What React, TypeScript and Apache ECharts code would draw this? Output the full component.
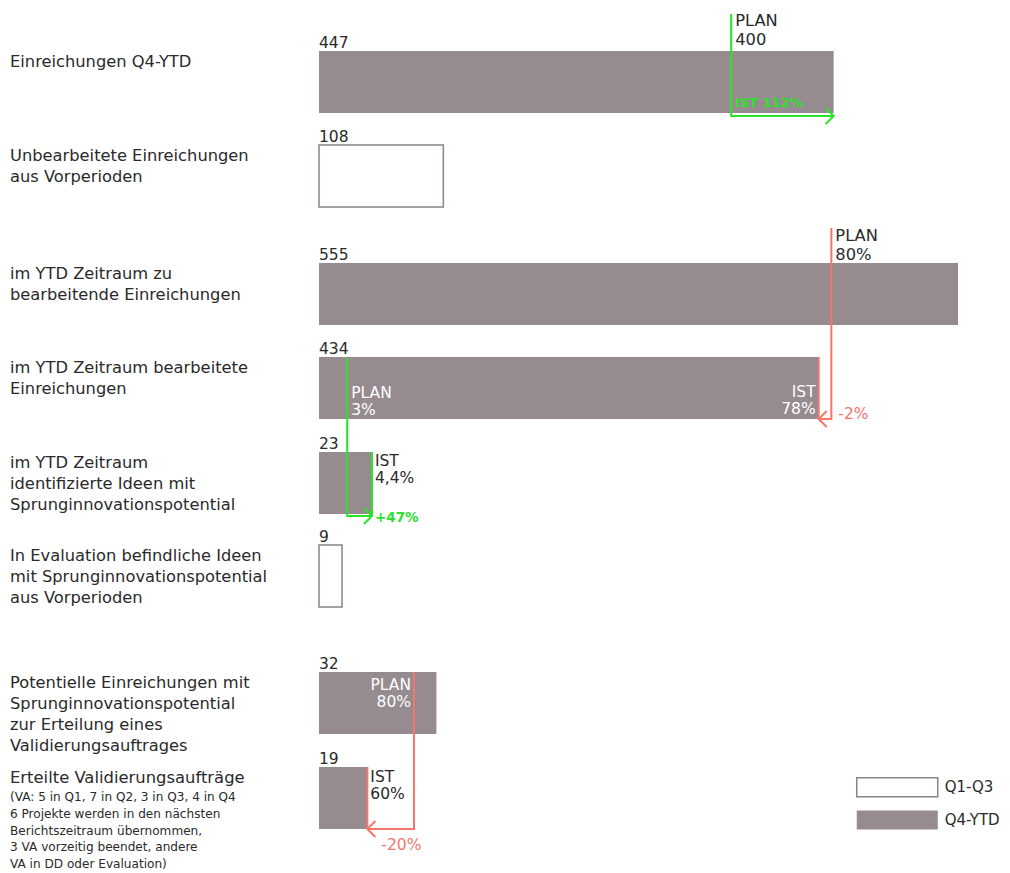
import React, { useEffect, useRef } from "react";
import * as echarts from "echarts";

// ---------- data ----------
const categories = [
  "Einreichungen Q4-YTD",
  "Unbearbeitete Einreichungen\naus Vorperioden",
  "im YTD Zeitraum zu\nbearbeitende Einreichungen",
  "im YTD Zeitraum bearbeitete\nEinreichungen",
  "im YTD Zeitraum\nidentifizierte Ideen mit\nSprunginnovationspotential",
  "In Evaluation befindliche Ideen\nmit Sprunginnovationspotential\naus Vorperioden",
  "Potentielle Einreichungen mit\nSprunginnovationspotential\nzur Erteilung eines\nValidierungsauftrages",
  "Erteilte Validierungsaufträge",
];
const categoryNote = [
  "(VA: 5 in Q1, 7 in Q2, 3 in Q3, 4 in Q4",
  "6 Projekte werden in den nächsten",
  "Berichtszeitraum übernommen,",
  "3 VA vorzeitig beendet, andere",
  "VA in DD oder Evaluation)",
];
const values = [447, 108, 555, 434, 23, 9, 32, 19];
// drawn bar lengths (small bars are not to scale)
const barLengths = [447, 108, 555, 434, 46, 20, 102, 42];
const periods = ["Q4-YTD", "Q1-Q3", "Q4-YTD", "Q4-YTD", "Q4-YTD", "Q1-Q3", "Q4-YTD", "Q4-YTD"];
const legendNames = ["Q1-Q3", "Q4-YTD"];

// plan / ist annotations
const annPlanLabels = ["PLAN\n400", "PLAN\n80%", "PLAN\n3%", "PLAN\n80%"];
const annIstLabels = ["IST 112%", "IST\n78%", "IST\n4,4%", "IST\n60%"];
const annDeltaLabels = ["", "-2%", "+47%", "-20%"];
const annPlanPos = [358, 445, 24.5, 82.5];
const annFromRow = [0, 2, 3, 6];
const annToRow = [0, 3, 4, 7];
const annTrend = ["up", "down", "up", "down"];

// ---------- layout / style ----------
const ROW_TOP = [51, 145, 263, 357, 452, 545, 672, 767];
const BAR_H = 62;
const ANN_TOP_OFFSET = [-37, -35, 1, 0];
const ANN_BOTTOM_OFFSET = [3, 0, 2, 0];
const ANN_EDGE = [false, true, true, true];
const FONT = "'DejaVu Sans', Inter, Roboto, sans-serif";
const BAR_FILL = "#968c90";
const BAR_STROKE = "#8c8386";
const TEXT = "#2a2a2a";
const GREEN = "#2be22b";
const RED = "#f4766c";

export default function App() {
  const ref = useRef<HTMLDivElement>(null);
  useEffect(() => {
    if (!ref.current) return;
    const chart = echarts.init(ref.current, undefined, { renderer: "svg" });

    const barRender = (params: any, api: any) => {
      const len = api.value(0);
      const top = api.value(1);
      const i = api.value(2);
      const p0 = api.coord([0, top]);
      const p1 = api.coord([len, top + BAR_H]);
      const outline = periods[i] === "Q1-Q3";
      const children: any[] = [
        {
          type: "rect",
          shape: { x: p0[0], y: p0[1], width: p1[0] - p0[0], height: p1[1] - p0[1] },
          style: outline
            ? { fill: "#fff", stroke: BAR_STROKE, lineWidth: 1.5 }
            : { fill: BAR_FILL },
        },
        {
          type: "text",
          style: {
            text: String(values[i]),
            x: p0[0],
            y: p0[1] - 8,
            fill: TEXT,
            fontSize: 15.5,
            fontFamily: FONT,
            align: "left",
            verticalAlign: "middle",
          },
        },
      ];
      const labelX = p0[0] - 309;
      if (i === categories.length - 1) {
        const t =
          "{a|" + categories[i] + "}\n" + categoryNote.map((s) => "{b|" + s + "}").join("\n");
        children.push({
          type: "text",
          style: {
            text: t,
            x: labelX,
            y: p0[1] - 1,
            align: "left",
            verticalAlign: "top",
            fill: TEXT,
            fontFamily: FONT,
            rich: {
              a: { fontSize: 16.4, lineHeight: 23, fontFamily: FONT, fill: TEXT, color: TEXT },
              b: { fontSize: 12.1, lineHeight: 16.7, fontFamily: FONT, fill: TEXT, color: TEXT },
            },
          },
        });
      } else {
        children.push({
          type: "text",
          style: {
            text: categories[i],
            x: labelX,
            y: p0[1],
            align: "left",
            verticalAlign: "top",
            fill: TEXT,
            fontSize: 16.3,
            lineHeight: 21,
            fontFamily: FONT,
          },
        });
      }
      return { type: "group", children };
    };

    const annRender = (params: any, api: any) => {
      const i = api.value(0);
      const from = annFromRow[i];
      const to = annToRow[i];
      const col = annTrend[i] === "up" ? GREEN : RED;
      const yTop = ROW_TOP[from] + ANN_TOP_OFFSET[i];
      const yBot = ROW_TOP[to] + BAR_H + ANN_BOTTOM_OFFSET[i];
      const a = api.coord([annPlanPos[i], yTop]);
      const b = api.coord([annPlanPos[i], yBot]);
      const c = api.coord([barLengths[to], yBot]);
      const e = api.coord([barLengths[to], ROW_TOP[to]]);
      const dir = c[0] > b[0] ? 1 : -1;
      const children: any[] = [
        {
          type: "polyline",
          shape: { points: [a, b, c] },
          style: { stroke: col, lineWidth: 2, fill: "none" },
        },
        {
          type: "polyline",
          shape: {
            points: [
              [c[0] - dir * 8, c[1] - 8],
              [c[0], c[1]],
              [c[0] - dir * 8, c[1] + 8],
            ],
          },
          style: { stroke: col, lineWidth: 2, fill: "none" },
        },
      ];
      if (ANN_EDGE[i]) {
        children.push({
          type: "line",
          shape: { x1: e[0], y1: e[1], x2: c[0], y2: c[1] },
          style: { stroke: col, lineWidth: 2 },
        });
      }
      const txt = (text: string, x: number, y: number, fill: string, align: string, va: string, extra: any = {}) => ({
        type: "text",
        style: {
          text,
          x,
          y,
          fill,
          align,
          verticalAlign: va,
          fontSize: 15.5,
          lineHeight: 17,
          fontFamily: FONT,
          ...extra,
        },
      });
      if (i === 0) {
        children.push(txt(annPlanLabels[i], a[0] + 4, a[1] - 3, TEXT, "left", "top", { lineHeight: 19, fontSize: 16.3 }));
        children.push(txt(annIstLabels[i], a[0] + 4, b[1] - 14, col, "left", "middle", { fontWeight: "bold", fontSize: 13 }));
      } else if (i === 1) {
        children.push(txt(annPlanLabels[i], a[0] + 4, a[1] - 2, TEXT, "left", "top", { lineHeight: 19, fontSize: 16.3 }));
        children.push(txt(annIstLabels[i], c[0] - 3, api.coord([0, ROW_TOP[to] + 26])[1], "#fff", "right", "top"));
        children.push(txt(annDeltaLabels[i], b[0] + 7, b[1] - 5, col, "left", "middle"));
      } else if (i === 2) {
        children.push(txt(annPlanLabels[i], a[0] + 4, api.coord([0, ROW_TOP[from] + 27])[1], "#fff", "left", "top"));
        children.push(txt(annIstLabels[i], c[0] + 3, api.coord([0, ROW_TOP[to]])[1], TEXT, "left", "top"));
        children.push(txt(annDeltaLabels[i], c[0] + 3, c[1] + 1, col, "left", "middle", { fontWeight: "bold", fontSize: 13.5 }));
      } else {
        children.push(txt(annPlanLabels[i], a[0] - 3, api.coord([0, ROW_TOP[from] + 4])[1], "#fff", "right", "top"));
        children.push(txt(annIstLabels[i], c[0] + 3, api.coord([0, ROW_TOP[to] + 1])[1], TEXT, "left", "top"));
        children.push(txt(annDeltaLabels[i], c[0] + 14, c[1] + 16, col, "left", "middle"));
      }
      return { type: "group", children };
    };

    const barData = (period: string) =>
      barLengths
        .map((len, i) => ({ len, i }))
        .filter((d) => periods[d.i] === period)
        .map((d) => [d.len, ROW_TOP[d.i], d.i]);

    chart.setOption({
      animation: false,
      grid: { left: 319, right: 52, top: 0, bottom: 0 },
      xAxis: { type: "value", min: 0, max: 555, show: false },
      yAxis: { type: "value", min: 0, max: 873, inverse: true, show: false },
      legend: {
        data: [
          { name: legendNames[0], itemStyle: { color: "#fff", borderColor: BAR_STROKE, borderWidth: 1.5 } },
          { name: legendNames[1], itemStyle: { color: BAR_FILL } },
        ],
        orient: "vertical",
        left: 856,
        top: 777,
        padding: 0,
        icon: "rect",
        itemWidth: 81,
        itemHeight: 19,
        itemGap: 13,
        selectedMode: false,
        textStyle: { fontSize: 15, color: TEXT, fontFamily: FONT, padding: [0, 0, 0, 2] },
      },
      series: [
        {
          name: legendNames[0],
          type: "custom",
          renderItem: barRender,
          itemStyle: { color: "#fff", borderColor: BAR_STROKE, borderWidth: 1.5 },
          data: barData("Q1-Q3"),
          silent: true,
        },
        {
          name: legendNames[1],
          type: "custom",
          renderItem: barRender,
          itemStyle: { color: BAR_FILL },
          data: barData("Q4-YTD"),
          silent: true,
        },
        {
          name: "annotations",
          type: "custom",
          renderItem: annRender,
          data: annPlanLabels.map((_, i) => [i]),
          silent: true,
          z: 5,
        },
      ],
    });
    return () => chart.dispose();
  }, []);
  return (
    <div
      ref={ref}
      style={{ position: "absolute", left: 0, top: 0, width: 1010, height: 873, background: "#fff" }}
    />
  );
}
